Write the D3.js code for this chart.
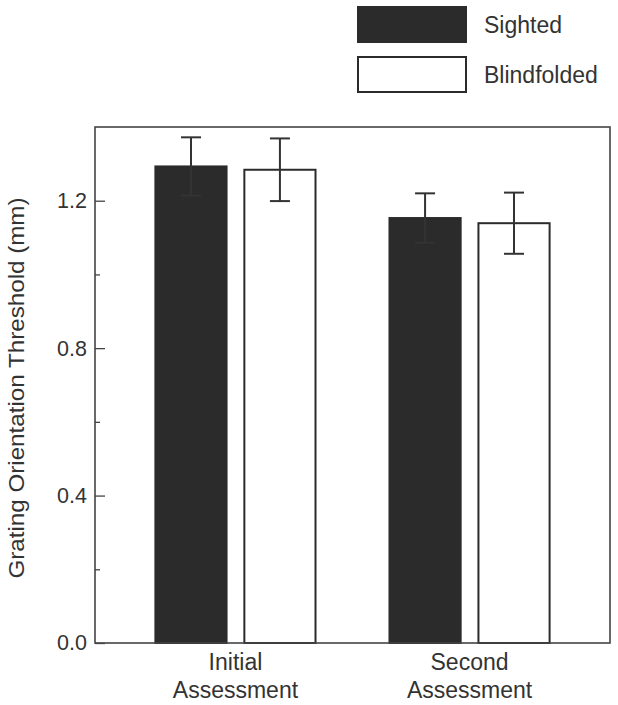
<!DOCTYPE html>
<html><head><meta charset="utf-8">
<script src="https://cdn.jsdelivr.net/npm/d3@7"></script>
<style>body{margin:0;background:#fff}svg{display:block}text{font-family:Arial,"Liberation Sans",sans-serif;fill:#333}</style>
</head><body><svg id="c" width="618" height="705"></svg>
<script>
const categories = ["Initial Assessment", "Second Assessment"];
const categoryLines = [["Initial", "Assessment"], ["Second", "Assessment"]];
const seriesNames = ["Sighted", "Blindfolded"];
const sightedValues = [1.293, 1.153];
const sightedErrors = [0.079, 0.067];
const blindValues = [1.284, 1.139];
const blindErrors = [0.085, 0.083];
const yTicks = [0.0, 0.4, 0.8, 1.2];
const yMinorTicks = [0.2, 0.6, 1.0];

const seriesFill = {"Sighted": "#2b2b2b", "Blindfolded": "#ffffff"};
const svg = d3.select("#c");
const L = 95, R = 610, T = 127, B = 643;

const y = d3.scaleLinear().domain([0, 1.4]).range([B, T]);
const x0 = d3.scaleBand().domain(categories).range([L, R]).paddingInner(0.316).paddingOuter(0.258);
const x1 = d3.scaleBand().domain(seriesNames).range([0, x0.bandwidth()]).paddingInner(0.2);

const data = [];
categories.forEach((c, i) => {
  data.push({cat: c, s: "Sighted", v: sightedValues[i], e: sightedErrors[i]});
  data.push({cat: c, s: "Blindfolded", v: blindValues[i], e: blindErrors[i]});
});

// bars
svg.append("g").selectAll("rect").data(data).join("rect")
  .attr("x", d => x0(d.cat) + x1(d.s))
  .attr("y", d => y(d.v))
  .attr("width", x1.bandwidth())
  .attr("height", d => y(0) - y(d.v))
  .attr("fill", d => seriesFill[d.s])
  .attr("stroke", "#2b2b2b").attr("stroke-width", 2);

// error bars
const eb = svg.append("g").attr("stroke", "#333").attr("stroke-width", 2);
data.forEach(d => {
  const cx = x0(d.cat) + x1(d.s) + x1.bandwidth() / 2;
  eb.append("line").attr("x1", cx).attr("x2", cx).attr("y1", y(d.v + d.e)).attr("y2", y(d.v - d.e));
  eb.append("line").attr("x1", cx - 10).attr("x2", cx + 10).attr("y1", y(d.v + d.e)).attr("y2", y(d.v + d.e));
  eb.append("line").attr("x1", cx - 10).attr("x2", cx + 10).attr("y1", y(d.v - d.e)).attr("y2", y(d.v - d.e));
});

// frame
svg.append("rect").attr("x", L).attr("y", T).attr("width", R - L).attr("height", B - T)
  .attr("fill", "none").attr("stroke", "#444").attr("stroke-width", 1.6);

// y axis
const yAxis = d3.axisRight(y).tickValues(yTicks).tickSize(10).tickFormat(d3.format(".1f"));
const ga = svg.append("g").attr("transform", `translate(${L},0)`).call(yAxis);
ga.select(".domain").remove();
ga.selectAll(".tick line").attr("stroke", "#444").attr("stroke-width", 1.3);
ga.selectAll(".tick text").attr("x", -8).attr("text-anchor", "end")
  .attr("font-size", 21.5).attr("fill", "#333").attr("font-family", "Arial, 'Liberation Sans', sans-serif");
const gm = svg.append("g").attr("transform", `translate(${L},0)`)
  .call(d3.axisRight(y).tickValues(yMinorTicks).tickSize(5).tickFormat(""));
gm.select(".domain").remove();
gm.selectAll(".tick line").attr("stroke", "#444").attr("stroke-width", 1.3);

// y title
svg.append("text").attr("transform", `translate(24,388) rotate(-90) scale(1.08,1)`)
  .attr("text-anchor", "middle").attr("font-size", 22.4).text("Grating Orientation Threshold (mm)");

// x labels
categories.forEach((c, i) => {
  const cx = x0(c) + x0.bandwidth() / 2;
  categoryLines[i].forEach((ln, j) => {
    svg.append("text").attr("x", cx).attr("y", 670 + j * 28).attr("text-anchor", "middle")
      .attr("font-size", 23).text(ln);
  });
});

// legend
seriesNames.forEach((s, i) => {
  const gy = 7 + i * 50;
  svg.append("rect").attr("x", 358).attr("y", gy).attr("width", 108).attr("height", 35)
    .attr("fill", seriesFill[s]).attr("stroke", "#2b2b2b").attr("stroke-width", 2);
  svg.append("text").attr("x", 484).attr("y", gy + 25.5).attr("font-size", 23).text(s);
});
</script></body></html>
